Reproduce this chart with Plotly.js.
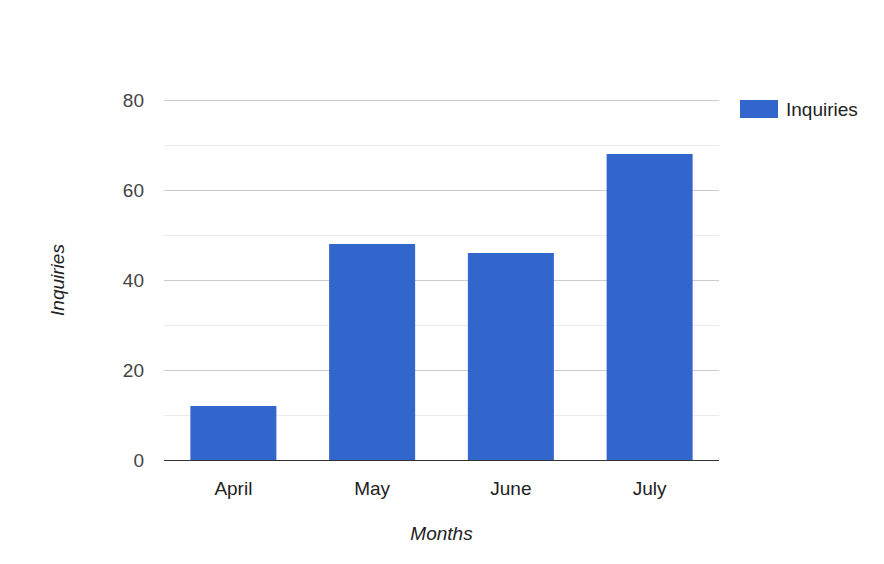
<!DOCTYPE html>
<html>
<head>
<meta charset="utf-8">
<script src="https://cdn.plot.ly/plotly-3.0.1.min.js"></script>
<style>html,body{margin:0;padding:0;background:#fff;}#chart{width:884px;height:564px;}</style>
</head>
<body>
<div id="chart"></div>
<script>
const months = ["April", "May", "June", "July"];
const inquiries = [12, 48, 46, 68];
const seriesName = "Inquiries";
const yTicks = [0, 20, 40, 60, 80];
const yMinorTicks = [10, 30, 50, 70];

const font = "Arial, 'Liberation Sans', sans-serif";
const barColor = "#3366cc";
const fs = 19;
const yMax = yTicks[yTicks.length - 1];
const plotH = 360;
const halfPx = 0.5 * yMax / plotH; // half a pixel in data units, for a crisp top gridline

const trace = {
  type: "bar",
  x: months,
  y: inquiries,
  name: seriesName,
  marker: {color: barColor},
  hoverinfo: "x+y",
  showlegend: false
};

const layout = {
  width: 884,
  height: 564,
  margin: {l: 164, r: 165, t: 100, b: 104, pad: 0},
  paper_bgcolor: "#fff",
  plot_bgcolor: "#fff",
  bargap: 0.38,
  font: {family: font, size: fs, color: "#222"},
  xaxis: {
    type: "category",
    tickfont: {family: font, size: fs, color: "#222"},
    showgrid: false,
    showline: true,
    linecolor: "#333",
    linewidth: 1,
    ticks: "",
    ticklabelstandoff: 11,
    title: {text: "<i>Months</i>", font: {family: font, size: fs, color: "#222"}, standoff: 28}
  },
  yaxis: {
    range: [0, yMax],
    tickvals: yTicks,
    ticktext: yTicks.map(String),
    tickfont: {family: font, size: fs, color: "#444"},
    showgrid: true,
    gridcolor: "#cccccc",
    gridwidth: 1,
    zeroline: false,
    showline: false,
    ticks: "",
    ticklabelstandoff: 19,
    minor: {tickvals: yMinorTicks, showgrid: true, gridcolor: "#ebebeb", gridwidth: 1, ticks: ""},
    title: {text: "<i>Inquiries</i>", font: {family: font, size: fs, color: "#222"}, standoff: 53}
  },
  shapes: [
    {
      type: "line", xref: "paper", yref: "y",
      x0: 0, x1: 1, y0: yMax - halfPx, y1: yMax - halfPx,
      line: {color: "#cccccc", width: 1}, layer: "below"
    },
    {
      type: "rect", xref: "paper", yref: "paper",
      x0: (740 - 164) / 555, x1: (778 - 164) / 555,
      y0: (460 - 118) / 360, y1: (460 - 100) / 360,
      fillcolor: barColor, line: {width: 0}
    }
  ],
  annotations: [{
    xref: "paper", yref: "paper",
    x: (784 - 164) / 555, y: (460 - 109) / 360,
    xanchor: "left", yanchor: "middle",
    text: seriesName, showarrow: false,
    font: {family: font, size: fs, color: "#222"}
  }]
};

Plotly.newPlot("chart", [trace], layout, {displayModeBar: false});
</script>
</body>
</html>
